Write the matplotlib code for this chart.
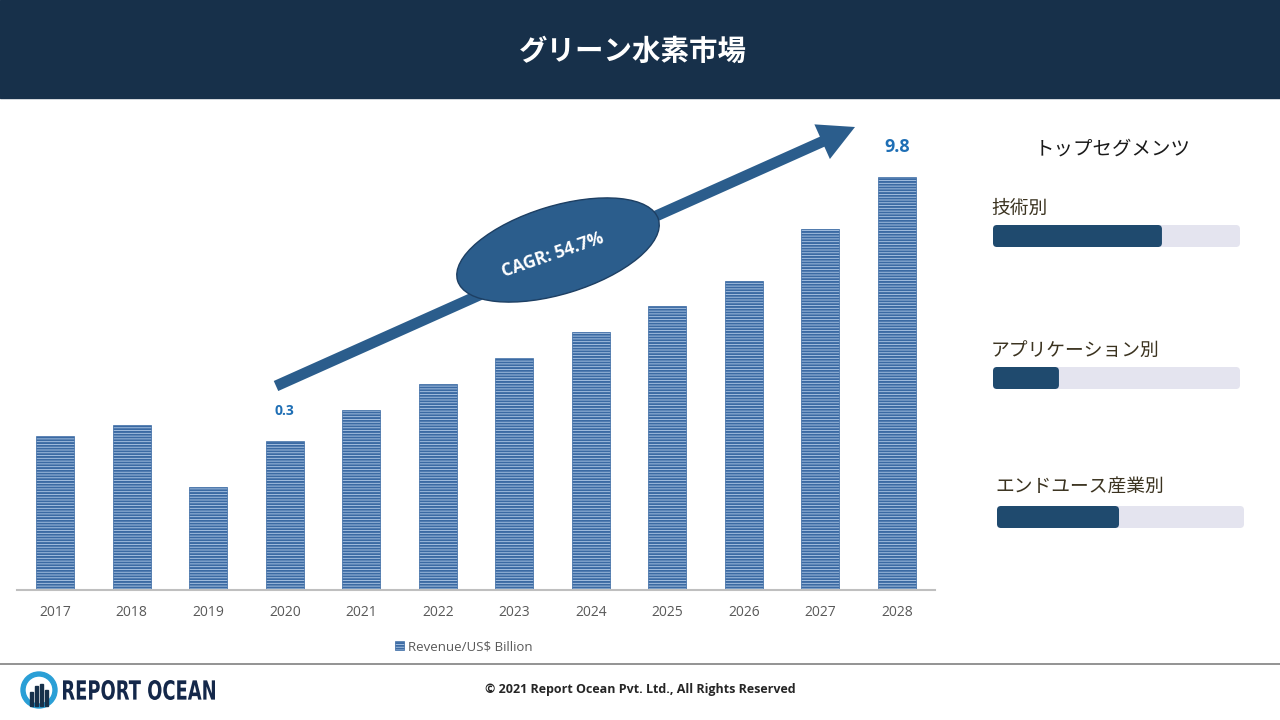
import matplotlib.pyplot as plt
from matplotlib.patches import Rectangle, FancyBboxPatch, Ellipse, FancyArrow, Wedge, PathPatch
from matplotlib.textpath import TextPath
from matplotlib.font_manager import FontProperties
from matplotlib.transforms import Affine2D

plt.rcParams['font.family'] = ['Open Sans', 'Noto Sans CJK JP', 'DejaVu Sans']
plt.rcParams['hatch.linewidth'] = 1.4

# データ
years = ['2017', '2018', '2019', '2020', '2021', '2022',
         '2023', '2024', '2025', '2026', '2027', '2028']
bar_heights = [154, 165, 103, 149, 180, 206, 232, 258, 284, 309, 361, 413]
value_labels = {'2020': '0.3', '2028': '9.8'}
series_name = 'Revenue/US$ Billion'

segments = ['技術別', 'アプリケーション別', 'エンドユース産業別']
segment_share = [0.684, 0.267, 0.494]

title = 'グリーン水素市場'
cagr_text = 'CAGR: 54.7%'

navy = '#17304a'
bar_blue = '#3b6aa3'
jp = ['Noto Sans CJK JP', 'DejaVu Sans']

fig = plt.figure(figsize=(12.8, 7.2), dpi=100)

# 棒グラフ
ax = fig.add_axes([17 / 1280, 130 / 720, 918 / 1280, 480 / 720])
x = list(range(len(years)))
ax.bar(x, bar_heights, width=0.5, color='#b3cbe8', edgecolor=bar_blue,
       hatch='------', linewidth=0.5, label=series_name)
ax.set_xlim(-0.5, len(years) - 0.5)
ax.set_ylim(0, 480)
ax.set_xticks(x)
ax.set_xticklabels(years, fontsize=10, color='#595959')
ax.tick_params(axis='x', length=0, pad=11)
ax.set_yticks([])
for s in ['top', 'left', 'right']:
    ax.spines[s].set_visible(False)
ax.spines['bottom'].set_color('#bfbfbf')
ax.spines['bottom'].set_linewidth(1.5)

for i, yr in enumerate(years):
    if yr in value_labels:
        fs = 13 if yr == years[-1] else 10
        ax.text(i, bar_heights[i] + 30, value_labels[yr], ha='center', va='center',
                fontsize=fs, fontweight='bold', color='#1f6fb5')

leg = ax.legend(loc='upper center', bbox_to_anchor=(0.487, -0.08), frameon=False,
                fontsize=9.5, handlelength=0.7, handleheight=0.7, handletextpad=0.3)
for t in leg.get_texts():
    t.set_color('#595959')

# 装飾用オーバーレイ (ピクセル座標)
ov = fig.add_axes([0, 0, 1, 1], zorder=5)
ov.set_xlim(0, 1280)
ov.set_ylim(720, 0)
ov.axis('off')
ov.patch.set_alpha(0)

ov.add_patch(Rectangle((0, 0), 1280, 98, color=navy))
ov.text(633, 52, title, ha='center', va='center', color='white', fontsize=20.5,
        fontweight='bold', family=jp)

# 矢印とCAGR
ov.add_patch(FancyArrow(276, 386, 855 - 276, 127 - 386, width=11, head_width=38,
                        head_length=36, length_includes_head=True,
                        color='#2b5d8c', linewidth=0))
ov.add_patch(Ellipse((558, 250), 210, 88, angle=-17, facecolor='#2b5d8c',
                     edgecolor='#1d3f63', linewidth=1))
ov.text(553, 255, cagr_text, ha='center', va='center', rotation=19, color='white',
        fontsize=12.5, fontweight='bold')

# トップセグメンツ
ov.text(1113, 149, 'トップセグメンツ', ha='center', va='center', fontsize=14,
        color='#1a1a1a', family=jp)
seg_pos = [(991, 208, 993, 225), (991, 350, 993, 367), (995, 487, 997, 506)]
track_w = 247
for name, share, (lx, ly, bx, by) in zip(segments, segment_share, seg_pos):
    ov.text(lx, ly, name, ha='left', va='center', fontsize=13.5, color='#3b3320',
            family=jp)
    ov.add_patch(FancyBboxPatch((bx, by), track_w, 22, boxstyle='round,pad=0,rounding_size=4',
                                facecolor='#e4e4ef', edgecolor='none'))
    ov.add_patch(FancyBboxPatch((bx, by), track_w * share, 22,
                                boxstyle='round,pad=0,rounding_size=4',
                                facecolor='#1f4a6e', edgecolor='none'))

# フッター
ov.plot([0, 1280], [664, 664], color='#808080', linewidth=1.2)
ov.text(640, 690, '© 2021 Report Ocean Pvt. Ltd., All Rights Reserved', ha='center',
        va='center', fontsize=9, fontweight='bold', color='#262626')
ov.add_patch(Wedge((39, 690), 18, 0, 360, width=4, color='#2a9fd6'))
for dx, h in [(-8, 14), (-3, 20), (2, 22), (7, 16)]:
    ov.add_patch(Rectangle((39 + dx - 1.5, 706 - h), 3, h, color='#17304a'))

# 幅を詰めたロゴ文字
tp = TextPath((0, 0), 'REPORT OCEAN', size=28,
              prop=FontProperties(family='DejaVu Sans', weight='bold'))
ext = tp.get_extents()
sx = 152 / ext.width
sy = 20 / ext.height
logo = Affine2D().translate(-ext.x0, -ext.y0).scale(sx, -sy).translate(63, 700)
ov.add_patch(PathPatch(logo.transform_path(tp), facecolor='#14284a', edgecolor='none'))

fig.savefig('out.png', dpi=100)
